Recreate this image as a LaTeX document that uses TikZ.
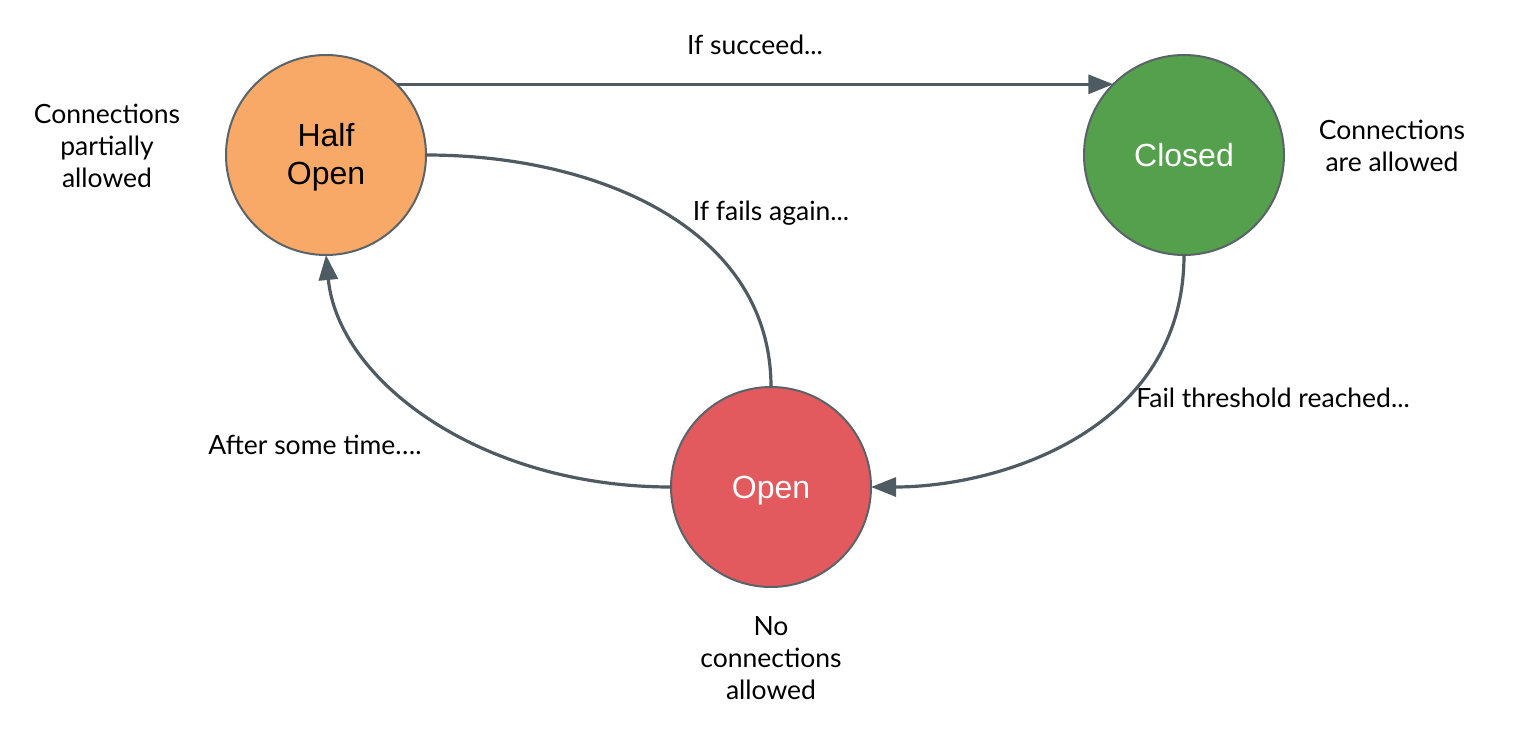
\documentclass[tikz,border=0pt]{standalone}
\usepackage{fontspec}
\setmainfont{Lato}
\newfontfamily\nodefont{Liberation Sans}
\usetikzlibrary{arrows.meta}
\definecolor{edgegray}{HTML}{4F5B62}
\definecolor{ringgray}{HTML}{5A6368}
\definecolor{halfopenfill}{HTML}{F8A967}
\definecolor{closedfill}{HTML}{55A04C}
\definecolor{openfill}{HTML}{E35A5E}
\tikzset{
  state/.style={circle, draw=ringgray, line width=2pt, minimum size=200pt, inner sep=0pt, outer sep=0pt},
  statetext/.style={anchor=base, inner sep=0pt, font=\nodefont\fontsize{32}{38}\selectfont},
  conn/.style={draw=edgegray, line width=3.2pt},
  tip/.style={-{Triangle[length=25pt,width=19pt]}},
  lbl/.style={font=\fontsize{26.5}{32}\selectfont, align=center, text=black, inner sep=0pt}
}
\begin{document}
\begin{tikzpicture}[x=1pt,y=-1pt]
\useasboundingbox (0,0) rectangle (1518,730);
\node[state, fill=halfopenfill] (ho) at (326,155) {};
\node[state, fill=closedfill] (cl) at (1184,155) {};
\node[state, fill=openfill] (op) at (771,487) {};
\node[statetext, text=black] (hot) at (326,147) {\begin{tabular}[t]{@{}c@{}}Half\\Open\end{tabular}};
\node[statetext, text=white] (clt) at (1184,167) {Closed};
\node[statetext, text=white] (opt) at (771,498) {Open};

\draw[conn, tip] (ho.45) -- (cl.135);
\draw[conn, tip] (op.west) .. controls (480,487) and (338,380) .. (ho.south);
\draw[conn] (op.north) .. controls (771,230) and (600,155) .. (ho.east);
\draw[conn, tip] (cl.south) .. controls (1184,430) and (1000,487) .. (op.east);

\node[lbl] (l1) at (755,45) {If succeed...};
\node[lbl] (l2) at (771,213) {If fails again...};
\node[lbl] (l3) at (315,445) {After some time….};
\node[lbl] (l4) at (1273,398) {Fail threshold reached...};
\node[lbl] (d1) at (107,146) {Connections\\partially\\allowed};
\node[lbl] (d2) at (1392,146) {Connections\\are allowed};
\node[lbl] (d3) at (771,658) {No\\connections\\allowed};
\end{tikzpicture}
\end{document}
